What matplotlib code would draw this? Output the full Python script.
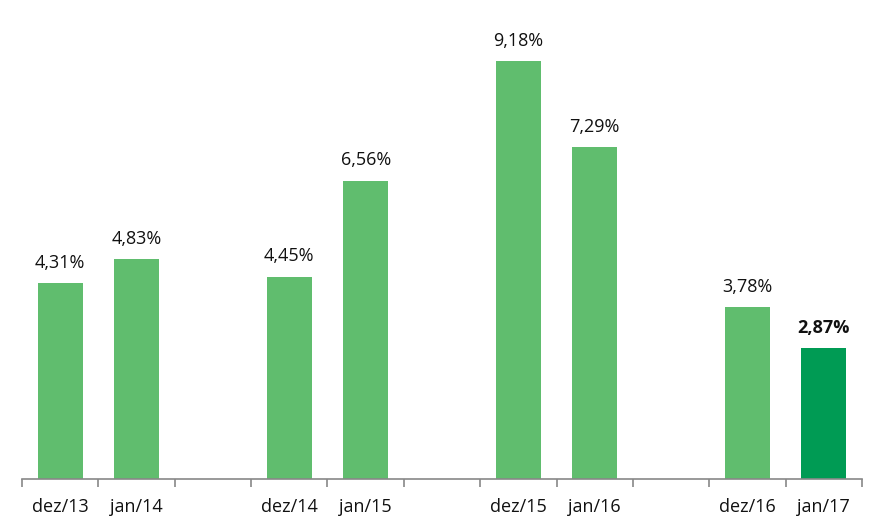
import matplotlib
matplotlib.use("Agg")
from matplotlib import pyplot as plt
import numpy as np

# categories (empty strings are the gaps between year pairs)
categories = ["dez/13", "jan/14", "", "dez/14", "jan/15", "", "dez/15", "jan/16", "", "dez/16", "jan/17"]
values = [4.31, 4.83, None, 4.45, 6.56, None, 9.18, 7.29, None, 3.78, 2.87]
value_labels = ["4,31%", "4,83%", "", "4,45%", "6,56%", "", "9,18%", "7,29%", "", "3,78%", "2,87%"]

light_green = "#60BD6E"
dark_green = "#009B54"

plt.rcParams["font.family"] = ["Open Sans", "DejaVu Sans"]

fig = plt.figure(figsize=(8.86, 5.32), dpi=100)
ax = fig.add_axes([22 / 886, 53 / 532, 840 / 886, 455 / 532])

x = np.arange(len(categories))
for i, v in enumerate(values):
    if v is None:
        continue
    last = i == len(values) - 1
    ax.bar(x[i], v, width=0.59, color=dark_green if last else light_green)
    ax.annotate(value_labels[i], (x[i], v), xytext=(0, 8), textcoords="offset points",
                ha="center", va="bottom", fontsize=13, color="#111111",
                fontweight="bold" if last else "normal")

ax.set_xlim(-0.5, len(categories) - 0.5)
ax.set_ylim(0, 10)
ax.set_yticks([])
for side in ["top", "right", "left"]:
    ax.spines[side].set_visible(False)
ax.spines["bottom"].set_color("#888888")
ax.spines["bottom"].set_linewidth(1.2)

ax.set_xticks(x)
ax.set_xticklabels(categories, fontsize=13, color="#111111")
ax.tick_params(axis="x", which="major", length=0, pad=14)
ax.set_xticks(np.arange(len(categories) + 1) - 0.5, minor=True)
ax.tick_params(axis="x", which="minor", length=6, color="#888888", width=1.2)

fig.savefig("out.png", dpi=100)
